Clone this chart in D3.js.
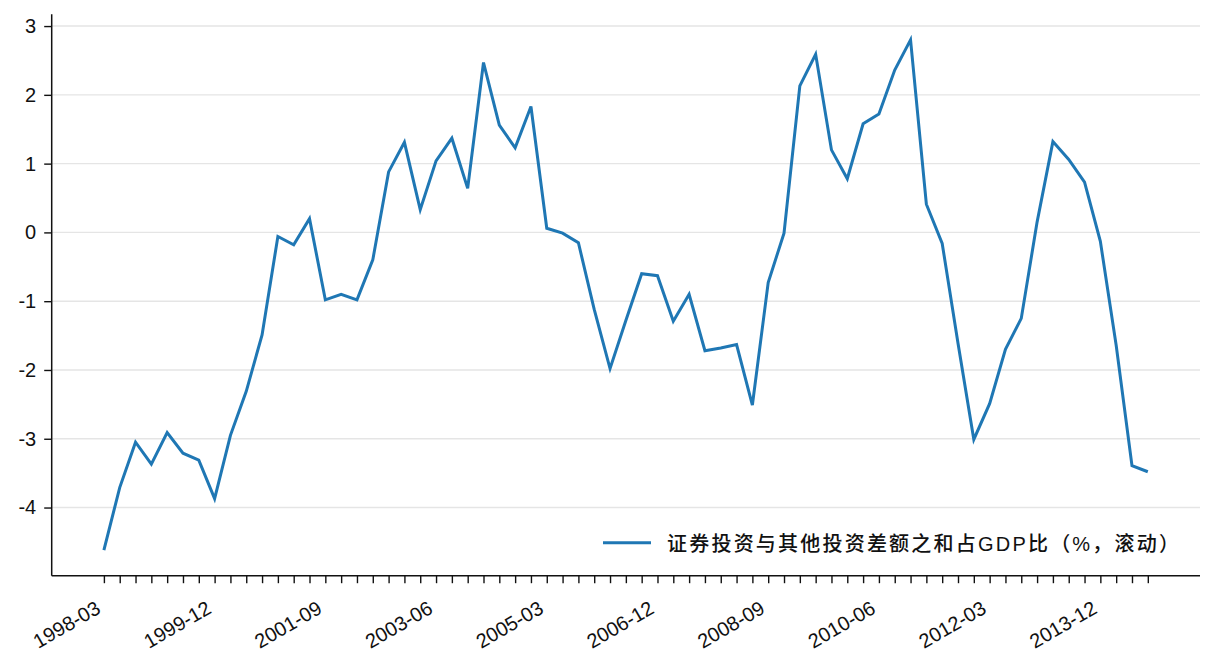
<!DOCTYPE html>
<html>
<head>
<meta charset="utf-8">
<script src="https://cdn.jsdelivr.net/npm/d3@7/dist/d3.min.js"></script>
<style>
  html, body { margin: 0; padding: 0; background: #fff; }
  svg { display: block; }
</style>
</head>
<body>
<svg id="chart" width="1215" height="672"></svg>
<script>
// ---- data ----
const quarters = [
  "1998-03","1998-06","1998-09","1998-12",
  "1999-03","1999-06","1999-09","1999-12",
  "2000-03","2000-06","2000-09","2000-12",
  "2001-03","2001-06","2001-09","2001-12",
  "2002-03","2002-06","2002-09","2002-12",
  "2003-03","2003-06","2003-09","2003-12",
  "2004-03","2004-06","2004-09","2004-12",
  "2005-03","2005-06","2005-09","2005-12",
  "2006-03","2006-06","2006-09","2006-12",
  "2007-03","2007-06","2007-09","2007-12",
  "2008-03","2008-06","2008-09","2008-12",
  "2009-03","2009-06","2009-09","2009-12",
  "2010-03","2010-06","2010-09","2010-12",
  "2011-03","2011-06","2011-09","2011-12",
  "2012-03","2012-06","2012-09","2012-12",
  "2013-03","2013-06","2013-09","2013-12",
  "2014-03","2014-06","2014-09"
];
const values = [
  -4.62, -3.71, -3.05, -3.37, -2.91, -3.21, -3.31, -3.87,
  -2.95, -2.31, -1.49, -0.06, -0.18, 0.20, -0.98, -0.90,
  -0.98, -0.40, 0.88, 1.31, 0.33, 1.04, 1.37, 0.64,
  2.47, 1.56, 1.23, 1.83, 0.06, -0.01, -0.15, -1.12,
  -1.98, -1.28, -0.60, -0.63, -1.29, -0.90, -1.72, -1.68,
  -1.63, -2.51, -0.73, -0.01, 2.13, 2.59, 1.20, 0.78,
  1.58, 1.72, 2.36, 2.80, 0.41, -0.16, -1.61, -3.01,
  -2.49, -1.70, -1.25, 0.15, 1.32, 1.06, 0.73, -0.13,
  -1.64, -3.39, -3.48
];
const xTickLabels = ["1998-03","1999-12","2001-09","2003-06","2005-03","2006-12","2008-09","2010-06","2012-03","2013-12"];
const yTicks = [-4, -3, -2, -1, 0, 1, 2, 3];
const seriesName = "证券投资与其他投资差额之和占GDP比（%，滚动）";

// ---- layout ----
const svg = d3.select("#chart");
const plotL = 51.7, plotR = 1200, plotT = 14.3, plotB = 575.7;
const n = values.length;
const xpad = (n - 1) * 0.05;
const x = d3.scaleLinear().domain([-xpad, n - 1 + xpad]).range([plotL, plotR]);
const vmin = d3.min(values), vmax = d3.max(values);
const vpad = (vmax - vmin) * 0.05;
const y = d3.scaleLinear().domain([vmin - vpad, vmax + vpad]).range([plotB, plotT]);

const fontLatin = "'Liberation Sans', Arial, sans-serif";
const fs = 20;

svg.append("rect").attr("width", 1215).attr("height", 672).attr("fill", "#fff");

// grid
svg.append("g").selectAll("line").data(yTicks).join("line")
  .attr("x1", plotL).attr("x2", plotR)
  .attr("y1", d => y(d)).attr("y2", d => y(d))
  .attr("stroke", "#e5e5e5").attr("stroke-width", 1.4);

// line
const line = d3.line().x((d, i) => x(i)).y(d => y(d));
svg.append("path").datum(values)
  .attr("d", line)
  .attr("fill", "none")
  .attr("stroke", "#1f77b4")
  .attr("stroke-width", 3)
  .attr("stroke-linejoin", "miter")
  .attr("stroke-linecap", "butt");

// y axis
const yAxis = d3.axisLeft(y).tickValues(yTicks).tickSize(7.5).tickPadding(8)
  .tickFormat(d => String(d));
const gy = svg.append("g").attr("transform", `translate(${plotL},0)`).call(yAxis);
gy.select(".domain").remove();
gy.selectAll(".tick line").attr("stroke", "#111").attr("stroke-width", 1.4);
gy.selectAll(".tick text").attr("font-size", fs).attr("font-family", fontLatin).attr("fill", "#111");
svg.append("line").attr("x1", plotL).attr("x2", plotL).attr("y1", plotT).attr("y2", plotB)
  .attr("stroke", "#111").attr("stroke-width", 1.5);

// x axis
const idx = d3.range(n);
const labelMap = new Map(xTickLabels.map(l => [quarters.indexOf(l), l]));
const xAxis = d3.axisBottom(x).tickValues(idx).tickSize(7.5).tickPadding(0)
  .tickFormat(i => labelMap.has(i) ? labelMap.get(i) : "");
const gx = svg.append("g").attr("transform", `translate(0,${plotB})`).call(xAxis);
gx.select(".domain").remove();
gx.selectAll(".tick line").attr("stroke", "#111").attr("stroke-width", 1.4);
gx.selectAll(".tick text")
  .attr("font-size", fs).attr("font-family", fontLatin).attr("fill", "#111")
  .attr("text-anchor", "end")
  .attr("dy", null)
  .attr("y", 0)
  .attr("transform", "translate(-2.5,36.5) rotate(-30)");
svg.append("line").attr("x1", plotL).attr("x2", plotR).attr("y1", plotB).attr("y2", plotB)
  .attr("stroke", "#111").attr("stroke-width", 1.5);

// legend
const lg = svg.append("g");
lg.append("line").attr("x1", 603).attr("x2", 651).attr("y1", 542.7).attr("y2", 542.7)
  .attr("stroke", "#1f77b4").attr("stroke-width", 3);
lg.append("text").attr("x", 667).attr("y", 550.5)
  .attr("font-size", 20)
  .attr("font-weight", 500)
  .attr("font-family", "'Liberation Sans', 'Noto Sans CJK SC', sans-serif")
  .attr("fill", "#111")
  .attr("textLength", 512).attr("lengthAdjust", "spacing")
  .text(seriesName);
</script>
</body>
</html>
